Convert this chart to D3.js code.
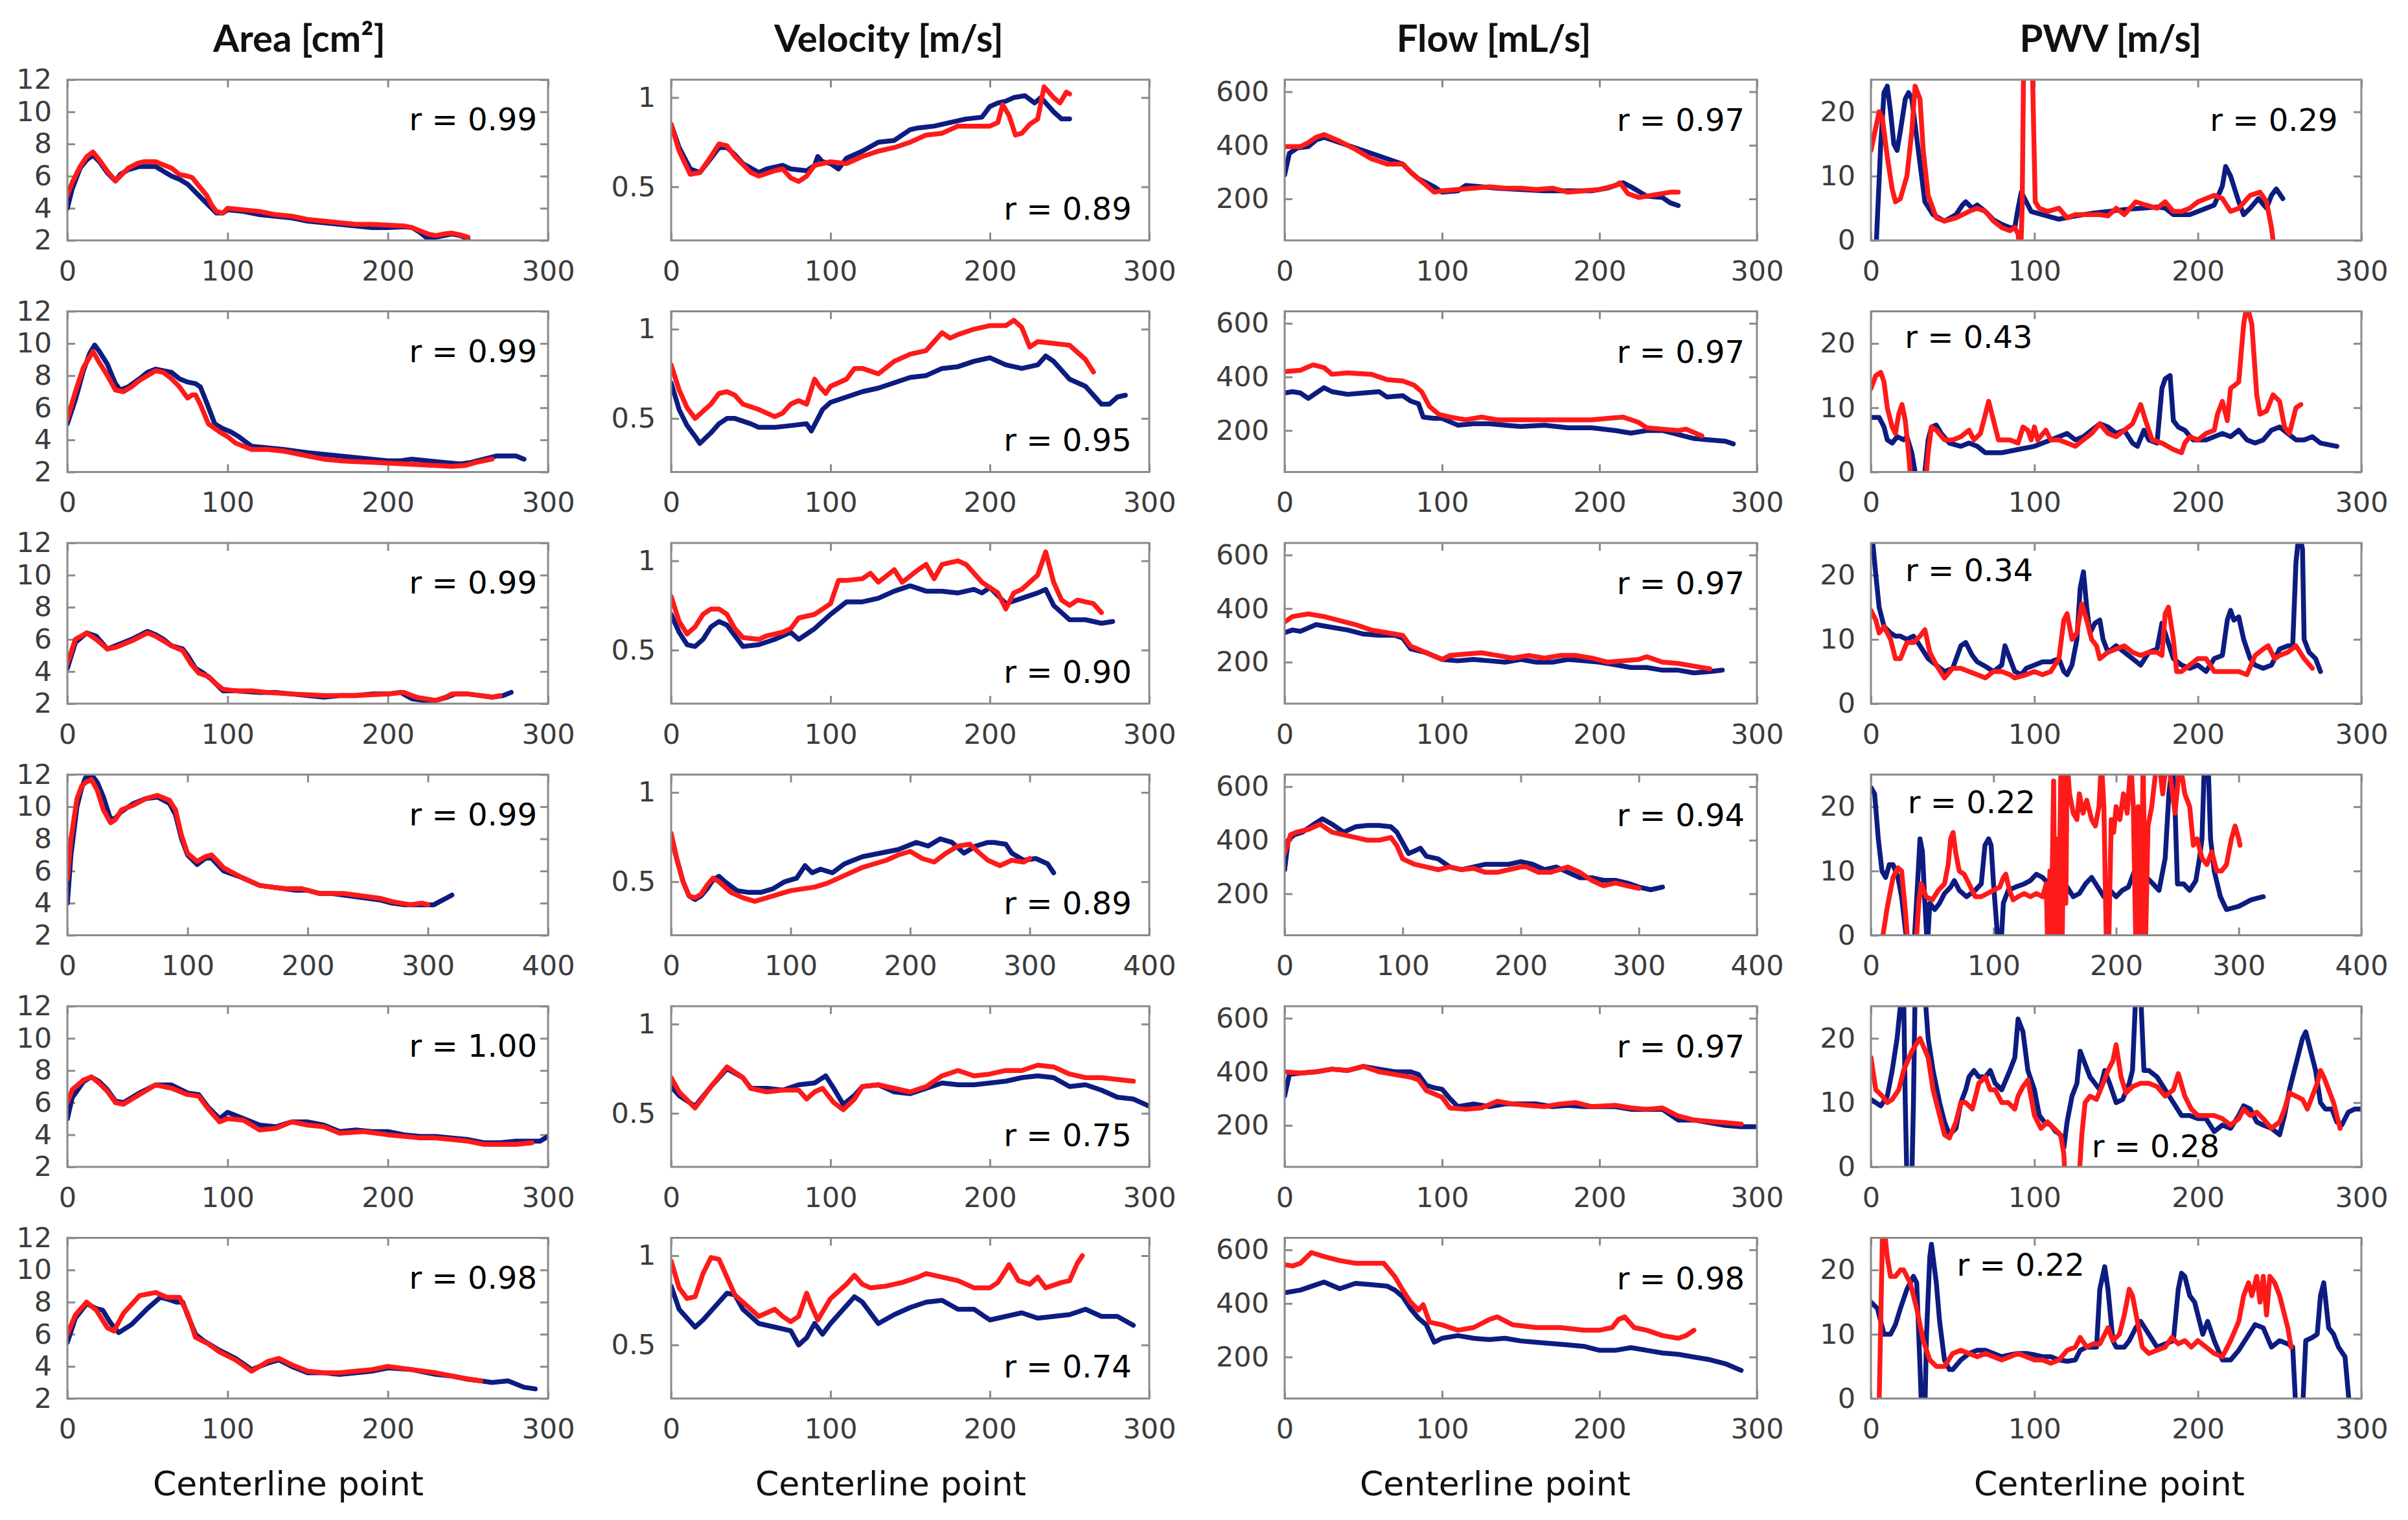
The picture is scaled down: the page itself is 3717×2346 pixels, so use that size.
<!DOCTYPE html>
<html><head><meta charset="utf-8">
<script src="https://cdn.jsdelivr.net/npm/d3@7"></script>
<style>html,body{margin:0;padding:0;background:#fff;} svg{display:block}</style>
</head><body>
<svg id="chart" width="3717" height="2346"></svg>
<script>
// ---------------- DATA ----------------
const columnTitles = ["Area [cm²]", "Velocity [m/s]", "Flow [mL/s]", "PWV [m/s]"];
const xAxisLabel = "Centerline point";
const rowXMax = [300, 300, 300, 400, 300, 300];
const xTickStep = 100;
const yDomains = [[2, 12], [0.2, 1.1], [45, 645], [0, 25]];
const yTickValues = [[2, 4, 6, 8, 10, 12], [0.5, 1], [200, 400, 600], [0, 10, 20]];
const rValues = [
  ["0.99", "0.99", "0.99", "0.99", "1.00", "0.98"],
  ["0.89", "0.95", "0.90", "0.89", "0.75", "0.74"],
  ["0.97", "0.97", "0.97", "0.94", "0.97", "0.98"],
  ["0.29", "0.43", "0.34", "0.22", "0.28", "0.22"]
];

// Area
const area1B = [[0,4.0],[3,5.2],[8,6.5],[12,7.0],[16,7.3],[20,6.9],[25,6.2],[30,5.7],[33,6.1],[38,6.4],[45,6.6],[50,6.6],[55,6.6],[60,6.3],[65,6.0],[70,5.8],[75,5.5],[80,5.0],[85,4.5],[90,4.0],[93,3.7],[97,3.7],[100,3.9],[110,3.8],[120,3.6],[130,3.5],[140,3.4],[150,3.2],[160,3.1],[170,3.0],[180,2.9],[190,2.8],[200,2.8],[210,2.85],[215,2.8],[220,2.5],[225,2.1],[230,2.2],[235,2.3],[240,2.4],[245,2.3],[250,2.1]];
const area1R = [[0,4.8],[3,5.6],[8,6.6],[12,7.2],[16,7.5],[20,7.0],[25,6.3],[30,5.7],[34,6.1],[38,6.5],[44,6.8],[48,6.9],[55,6.9],[60,6.7],[65,6.5],[70,6.1],[75,6.0],[78,5.9],[82,5.4],[87,4.8],[90,4.2],[93,3.8],[97,3.7],[100,4.0],[110,3.9],[120,3.8],[130,3.6],[140,3.5],[150,3.3],[160,3.2],[170,3.1],[180,3.0],[190,3.0],[200,2.95],[210,2.9],[215,2.8],[220,2.6],[225,2.4],[230,2.3],[235,2.4],[240,2.45],[245,2.35],[250,2.2]];
const area2B = [[0,5.0],[5,6.5],[10,8.3],[14,9.4],[17,9.9],[20,9.5],[25,8.7],[30,7.5],[33,7.1],[38,7.3],[45,7.8],[50,8.2],[55,8.4],[60,8.3],[65,8.2],[70,7.8],[75,7.6],[80,7.5],[83,7.3],[87,6.3],[92,5.0],[97,4.7],[102,4.5],[107,4.2],[115,3.6],[125,3.5],[135,3.4],[150,3.2],[160,3.1],[170,3.0],[180,2.9],[190,2.8],[200,2.7],[208,2.7],[215,2.8],[225,2.7],[235,2.6],[245,2.5],[252,2.6],[260,2.8],[268,3.0],[275,3.0],[280,3.0],[285,2.8]];
const area2R = [[0,5.3],[5,7.0],[10,8.5],[16,9.5],[20,8.8],[25,8.0],[30,7.1],[35,7.0],[40,7.3],[45,7.7],[50,8.0],[55,8.3],[60,8.2],[65,7.8],[70,7.3],[75,6.6],[78,6.8],[80,6.8],[83,6.2],[88,5.0],[95,4.5],[100,4.2],[105,3.8],[115,3.4],[125,3.4],[135,3.3],[150,3.0],[160,2.8],[170,2.7],[180,2.65],[190,2.6],[200,2.55],[210,2.5],[220,2.45],[230,2.4],[240,2.35],[248,2.4],[255,2.6],[260,2.7],[265,2.8]];
const area3B = [[0,4.2],[5,5.8],[12,6.4],[18,6.2],[25,5.4],[30,5.6],[40,6.0],[50,6.5],[55,6.3],[60,6.0],[65,5.6],[72,5.4],[75,5.0],[80,4.2],[85,3.9],[90,3.5],[97,2.8],[105,2.8],[120,2.7],[130,2.7],[140,2.6],[150,2.5],[160,2.4],[170,2.5],[180,2.5],[190,2.6],[200,2.6],[208,2.7],[215,2.3],[222,2.2],[230,2.2],[237,2.4],[242,2.6],[250,2.6],[258,2.5],[265,2.4],[272,2.5],[277,2.7]];
const area3R = [[0,4.5],[5,6.0],[12,6.4],[18,6.0],[25,5.4],[30,5.5],[40,5.9],[50,6.4],[55,6.2],[60,5.9],[65,5.6],[72,5.3],[77,4.5],[82,3.9],[88,3.7],[92,3.3],[97,2.9],[105,2.8],[115,2.8],[125,2.7],[140,2.6],[150,2.55],[160,2.5],[170,2.5],[180,2.5],[190,2.55],[200,2.6],[210,2.7],[215,2.5],[220,2.35],[230,2.2],[236,2.4],[240,2.6],[250,2.6],[258,2.5],[265,2.4],[270,2.5]];
const area4B = [[0,4.0],[3,7.0],[8,10.0],[12,11.2],[15,11.8],[20,12.0],[25,11.5],[30,10.6],[36,9.2],[40,9.3],[45,9.7],[55,10.2],[65,10.5],[75,10.6],[85,10.2],[90,9.5],[95,8.0],[100,7.0],[108,6.4],[115,6.8],[120,6.8],[125,6.4],[130,6.0],[145,5.6],[160,5.1],[170,5.0],[180,4.9],[190,4.8],[200,4.8],[210,4.6],[220,4.6],[230,4.5],[240,4.4],[250,4.3],[260,4.2],[270,4.0],[280,3.9],[290,3.9],[300,3.9],[305,3.9],[310,4.1],[315,4.3],[320,4.5]];
const area4R = [[0,5.5],[3,8.0],[8,10.5],[12,11.3],[15,11.5],[20,11.7],[25,11.0],[30,9.8],[36,9.0],[40,9.2],[45,9.8],[55,10.1],[65,10.5],[75,10.7],[85,10.4],[90,9.8],[95,8.2],[100,7.1],[108,6.6],[115,6.9],[120,7.0],[125,6.6],[130,6.2],[145,5.6],[160,5.1],[170,5.0],[180,4.9],[195,4.9],[210,4.6],[220,4.6],[230,4.6],[240,4.5],[250,4.4],[260,4.3],[270,4.1],[285,3.9],[295,4.0],[300,3.9]];
const area5B = [[0,5.0],[3,6.3],[10,7.3],[15,7.6],[20,7.3],[25,6.8],[30,6.1],[35,6.0],[45,6.6],[55,7.1],[65,7.1],[75,6.6],[82,6.5],[88,5.7],[95,5.0],[100,5.4],[110,5.0],[120,4.6],[130,4.5],[140,4.8],[150,4.8],[160,4.6],[170,4.2],[180,4.3],[190,4.2],[200,4.2],[210,4.0],[220,3.9],[230,3.9],[240,3.8],[250,3.7],[260,3.5],[270,3.5],[280,3.6],[290,3.6],[295,3.6],[300,3.9]];
const area5R = [[0,6.0],[3,6.8],[10,7.4],[15,7.6],[20,7.2],[25,6.7],[30,6.0],[35,5.9],[45,6.5],[55,7.1],[65,6.9],[75,6.5],[82,6.4],[88,5.6],[95,4.8],[100,5.0],[110,4.9],[120,4.3],[130,4.4],[140,4.8],[150,4.6],[160,4.5],[170,4.1],[185,4.2],[200,4.0],[210,3.9],[220,3.8],[230,3.8],[240,3.7],[250,3.6],[260,3.4],[270,3.4],[280,3.4],[290,3.5]];
const area6B = [[0,5.5],[5,7.0],[12,7.9],[18,7.6],[22,7.5],[27,6.7],[32,6.1],[40,6.6],[50,7.6],[58,8.3],[62,8.2],[68,8.0],[72,8.0],[75,7.2],[80,6.0],[85,5.6],[95,5.0],[105,4.5],[115,3.8],[125,4.2],[132,4.4],[140,4.0],[150,3.6],[160,3.6],[170,3.5],[180,3.6],[190,3.7],[200,3.9],[215,3.8],[230,3.5],[240,3.4],[250,3.2],[258,3.1],[265,3.0],[275,3.1],[285,2.7],[292,2.6]];
const area6R = [[0,6.0],[5,7.2],[12,8.0],[18,7.5],[25,6.4],[29,6.2],[35,7.3],[45,8.4],[55,8.6],[62,8.3],[70,8.3],[75,7.3],[80,5.8],[88,5.4],[95,4.9],[105,4.4],[115,3.7],[125,4.3],[132,4.5],[140,4.1],[150,3.7],[160,3.6],[170,3.6],[180,3.7],[190,3.8],[200,4.0],[215,3.8],[230,3.6],[245,3.3],[258,3.1]];

// Velocity
const vel1B = [[0,0.85],[5,0.72],[12,0.60],[18,0.58],[25,0.66],[30,0.72],[35,0.72],[40,0.68],[45,0.63],[55,0.58],[60,0.60],[65,0.61],[70,0.62],[75,0.60],[85,0.59],[90,0.62],[92,0.67],[95,0.64],[100,0.63],[105,0.60],[110,0.66],[120,0.70],[130,0.75],[140,0.76],[145,0.79],[150,0.82],[155,0.83],[165,0.84],[175,0.86],[185,0.88],[195,0.89],[200,0.95],[205,0.97],[210,0.98],[215,1.0],[222,1.01],[228,0.97],[232,1.0],[236,0.96],[240,0.92],[245,0.88],[250,0.88]];
const vel1R = [[0,0.85],[5,0.70],[12,0.57],[18,0.58],[25,0.67],[30,0.74],[35,0.73],[40,0.67],[50,0.58],[55,0.56],[65,0.59],[70,0.60],[75,0.55],[80,0.53],[85,0.56],[90,0.62],[100,0.64],[110,0.63],[120,0.67],[130,0.70],[140,0.72],[150,0.75],[160,0.79],[170,0.80],[180,0.84],[190,0.84],[200,0.84],[205,0.86],[208,0.96],[212,0.90],[216,0.79],[220,0.80],[225,0.85],[230,0.88],[234,1.06],[240,1.0],[244,0.97],[248,1.03],[250,1.02]];
const vel2B = [[0,0.70],[5,0.55],[10,0.46],[15,0.40],[18,0.36],[25,0.42],[30,0.47],[35,0.50],[40,0.50],[50,0.47],[55,0.45],[65,0.45],[75,0.46],[85,0.47],[88,0.43],[95,0.55],[100,0.59],[110,0.62],[120,0.65],[130,0.67],[140,0.70],[150,0.73],[160,0.74],[170,0.78],[180,0.79],[190,0.82],[200,0.84],[210,0.80],[220,0.78],[230,0.80],[235,0.85],[240,0.82],[250,0.72],[260,0.68],[270,0.58],[275,0.58],[280,0.62],[285,0.63]];
const vel2R = [[0,0.80],[5,0.66],[10,0.56],[15,0.50],[20,0.54],[25,0.58],[30,0.64],[35,0.65],[40,0.63],[45,0.58],[55,0.55],[65,0.51],[70,0.53],[75,0.58],[80,0.60],[85,0.58],[90,0.72],[93,0.68],[97,0.64],[100,0.68],[110,0.72],[115,0.78],[120,0.78],[130,0.75],[140,0.82],[150,0.86],[160,0.88],[165,0.93],[170,0.98],[175,0.95],[180,0.97],[190,1.0],[200,1.02],[210,1.02],[215,1.05],[220,1.01],[225,0.90],[230,0.93],[240,0.92],[250,0.91],[260,0.83],[265,0.76]];
const vel3B = [[0,0.70],[5,0.60],[10,0.53],[15,0.52],[20,0.56],[25,0.63],[30,0.66],[35,0.64],[40,0.58],[45,0.52],[55,0.53],[65,0.56],[75,0.60],[80,0.56],[90,0.62],[100,0.70],[110,0.77],[120,0.77],[130,0.79],[140,0.83],[150,0.86],[160,0.83],[170,0.83],[180,0.82],[190,0.84],[195,0.82],[200,0.85],[210,0.76],[220,0.79],[230,0.82],[235,0.84],[240,0.75],[250,0.67],[260,0.67],[270,0.65],[277,0.66]];
const vel3R = [[0,0.80],[5,0.66],[10,0.59],[15,0.63],[20,0.70],[25,0.73],[30,0.73],[35,0.70],[40,0.62],[45,0.57],[55,0.56],[60,0.58],[70,0.60],[75,0.62],[80,0.68],[90,0.70],[100,0.76],[105,0.89],[110,0.89],[120,0.90],[125,0.93],[130,0.88],[140,0.95],[145,0.88],[155,0.95],[160,0.98],[165,0.90],[170,0.98],[180,1.0],[185,0.98],[195,0.88],[200,0.85],[205,0.82],[210,0.73],[215,0.82],[220,0.84],[230,0.92],[235,1.05],[240,0.88],[245,0.78],[250,0.75],[255,0.78],[265,0.76],[270,0.71]];
const vel4B = [[0,0.75],[5,0.62],[10,0.50],[15,0.42],[20,0.40],[25,0.42],[30,0.46],[35,0.51],[40,0.53],[45,0.50],[55,0.45],[65,0.44],[75,0.44],[85,0.46],[95,0.50],[105,0.52],[112,0.59],[118,0.55],[125,0.57],[135,0.55],[145,0.60],[160,0.64],[175,0.66],[190,0.68],[205,0.72],[215,0.70],[225,0.74],[235,0.72],[245,0.66],[255,0.70],[265,0.72],[270,0.72],[280,0.71],[285,0.66],[295,0.62],[305,0.63],[315,0.60],[320,0.55]];
const vel4R = [[0,0.77],[5,0.62],[10,0.50],[15,0.42],[20,0.41],[25,0.43],[30,0.48],[35,0.52],[40,0.50],[50,0.44],[60,0.41],[70,0.39],[80,0.41],[90,0.43],[100,0.45],[110,0.46],[120,0.47],[130,0.49],[140,0.52],[150,0.55],[160,0.58],[170,0.60],[180,0.62],[190,0.65],[200,0.67],[210,0.63],[220,0.61],[230,0.66],[240,0.70],[250,0.71],[258,0.66],[265,0.62],[275,0.59],[285,0.62],[295,0.61],[300,0.63]];
const vel5B = [[0,0.65],[5,0.60],[15,0.54],[25,0.65],[35,0.75],[45,0.70],[50,0.64],[60,0.64],[70,0.63],[80,0.66],[90,0.67],[97,0.71],[102,0.64],[108,0.55],[115,0.60],[120,0.65],[130,0.66],[140,0.62],[150,0.61],[160,0.64],[170,0.67],[180,0.66],[190,0.66],[200,0.67],[210,0.68],[220,0.70],[230,0.71],[240,0.70],[250,0.65],[260,0.66],[270,0.63],[280,0.59],[290,0.58],[300,0.54]];
const vel5R = [[0,0.70],[5,0.62],[15,0.53],[25,0.65],[35,0.76],[45,0.70],[50,0.64],[60,0.62],[70,0.63],[80,0.63],[85,0.58],[90,0.62],[95,0.64],[102,0.56],[108,0.52],[115,0.58],[120,0.65],[130,0.66],[140,0.64],[150,0.62],[160,0.65],[165,0.68],[170,0.71],[180,0.74],[190,0.71],[200,0.72],[210,0.74],[220,0.74],[230,0.77],[240,0.76],[250,0.72],[260,0.70],[270,0.70],[280,0.69],[290,0.68]];
const vel6B = [[0,0.83],[5,0.70],[10,0.65],[15,0.60],[20,0.64],[28,0.72],[35,0.79],[40,0.78],[45,0.70],[55,0.62],[65,0.60],[75,0.58],[80,0.50],[85,0.54],[90,0.62],[95,0.56],[100,0.62],[110,0.72],[115,0.77],[120,0.74],[125,0.68],[130,0.62],[140,0.67],[150,0.71],[160,0.74],[170,0.75],[180,0.70],[190,0.70],[200,0.64],[210,0.66],[220,0.68],[230,0.65],[240,0.66],[250,0.67],[260,0.70],[270,0.66],[280,0.66],[290,0.61]];
const vel6R = [[0,0.97],[5,0.82],[10,0.76],[15,0.77],[20,0.90],[25,0.99],[30,0.98],[35,0.88],[40,0.78],[50,0.70],[55,0.66],[60,0.68],[65,0.70],[70,0.66],[75,0.63],[80,0.66],[85,0.79],[88,0.72],[92,0.64],[100,0.76],[110,0.84],[115,0.89],[120,0.84],[125,0.82],[135,0.83],[145,0.85],[155,0.88],[160,0.90],[170,0.88],[180,0.86],[190,0.82],[200,0.82],[205,0.85],[210,0.92],[212,0.95],[218,0.86],[225,0.84],[230,0.88],[235,0.82],[245,0.85],[250,0.86],[255,0.96],[258,1.0]];

// Flow
const flow1B = [[0,290],[3,370],[8,390],[15,395],[20,420],[25,430],[30,420],[40,400],[50,380],[60,360],[65,350],[75,330],[80,300],[85,275],[95,245],[100,225],[110,230],[115,250],[125,245],[135,240],[150,235],[165,230],[180,230],[195,230],[205,240],[210,250],[215,260],[220,245],[230,210],[240,205],[245,185],[250,175]];
const flow1R = [[0,395],[5,395],[10,395],[15,410],[20,430],[25,440],[35,415],[45,385],[55,350],[65,330],[75,330],[80,300],[85,275],[95,225],[100,230],[110,235],[120,240],[130,245],[140,240],[150,240],[160,235],[170,240],[180,225],[190,230],[200,235],[210,250],[213,260],[218,220],[225,205],[235,215],[245,225],[250,225]];
const flow2B = [[0,340],[5,345],[10,340],[15,320],[20,340],[25,360],[30,345],[40,335],[50,340],[60,345],[65,325],[75,330],[80,310],[85,300],[88,250],[95,245],[100,245],[110,220],[120,225],[130,225],[140,220],[150,215],[165,220],[180,210],[195,210],[210,200],[220,190],[230,200],[240,200],[250,185],[260,170],[270,165],[280,160],[285,150]];
const flow2R = [[0,420],[10,425],[18,445],[25,435],[30,410],[40,415],[55,410],[65,390],[75,385],[82,370],[87,345],[92,290],[98,260],[105,250],[115,240],[125,250],[135,240],[150,240],[165,240],[180,240],[195,240],[205,245],[215,250],[225,230],[230,210],[240,205],[250,200],[255,205],[265,180]];
const flow3B = [[0,310],[5,320],[10,315],[20,340],[30,330],[40,320],[50,305],[60,300],[70,300],[75,290],[80,250],[90,235],[100,210],[110,205],[120,210],[130,205],[140,200],[150,210],[160,200],[170,200],[180,210],[190,205],[200,200],[210,190],[220,180],[230,180],[240,170],[250,170],[260,160],[270,165],[278,170]];
const flow3R = [[0,350],[5,370],[15,380],[25,370],[35,355],[45,340],[55,320],[65,310],[75,300],[80,260],[90,235],[100,210],[105,225],[115,230],[125,235],[135,225],[145,215],[155,225],[165,215],[175,225],[185,225],[195,215],[205,200],[215,205],[225,210],[230,220],[240,200],[250,195],[260,185],[270,175]];
const flow4B = [[0,290],[3,400],[8,420],[15,430],[25,460],[32,480],[40,460],[50,430],[60,450],[70,455],[80,455],[90,450],[95,430],[100,390],[105,350],[110,360],[115,370],[120,340],[130,330],[140,300],[150,290],[160,300],[170,310],[180,310],[190,310],[200,320],[210,310],[220,290],[230,300],[240,280],[250,260],[260,260],[270,250],[280,250],[290,240],[300,225],[310,215],[320,225]];
const flow4R = [[0,350],[5,420],[10,430],[20,440],[30,460],[40,430],[50,420],[60,410],[70,400],[80,400],[90,410],[95,380],[100,330],[110,310],[120,300],[130,290],[140,300],[150,290],[160,295],[170,280],[180,280],[190,290],[200,300],[205,300],[215,280],[225,280],[240,300],[250,280],[260,250],[270,230],[280,240],[290,230],[300,220]];
const flow5B = [[0,310],[3,390],[10,395],[20,400],[30,410],[40,405],[50,420],[60,410],[70,400],[80,400],[85,390],[90,350],[95,340],[100,335],[105,300],[110,270],[120,280],[130,270],[140,280],[150,280],[160,280],[170,270],[180,275],[190,270],[200,270],[210,270],[220,260],[230,260],[240,260],[245,240],[250,220],[260,220],[270,210],[280,200],[290,195],[300,195]];
const flow5R = [[0,400],[10,395],[20,400],[30,410],[40,405],[50,420],[60,400],[70,390],[80,380],[85,370],[90,330],[100,305],[105,265],[115,260],[125,265],[135,290],[145,280],[155,275],[165,270],[175,280],[185,285],[195,270],[210,275],[220,265],[230,260],[240,265],[250,235],[260,220],[270,215],[280,210],[290,205]];
const flow6B = [[0,440],[10,450],[20,470],[25,480],[35,455],[45,475],[55,470],[65,465],[70,450],[75,425],[80,380],[85,345],[90,320],[95,255],[100,270],[110,280],[120,270],[130,265],[140,270],[150,260],[160,255],[170,250],[180,245],[190,240],[200,225],[210,225],[220,235],[230,225],[240,215],[250,210],[260,200],[270,190],[280,175],[290,150]];
const flow6R = [[0,545],[5,540],[10,550],[17,590],[25,575],[35,560],[45,550],[55,550],[63,550],[70,500],[75,450],[80,405],[85,375],[88,395],[92,330],[100,320],[110,300],[120,310],[130,340],[135,350],[145,320],[160,310],[175,310],[190,300],[200,300],[208,310],[212,340],[216,350],[222,310],[230,300],[240,280],[250,270],[255,280],[260,300]];

// PWV
const pwv1B = [[3,-2],[6,15],[8,23],[10,24],[12,20],[14,15],[16,14],[18,17],[21,22],[23,23],[25,22],[27,18],[30,12],[33,6],[38,4],[45,3],[52,4],[56,5.5],[58,6],[62,5],[65,5.5],[70,4.5],[75,3.2],[80,2.5],[85,2],[88,2],[90,5],[92,7.5],[95,6],[98,4.5],[105,4],[115,3.3],[125,3.8],[135,4.2],[145,4.5],[155,4.8],[165,5],[175,5.2],[180,5],[185,4],[195,4],[205,5],[210,5.5],[215,8.5],[217,11.5],[220,10],[225,6],[228,4],[232,5],[237,6.5],[242,5],[245,7],[248,8],[252,6.5]];
const pwv1R = [[0,14],[5,20],[7,19],[10,13],[13,8],[15,6],[18,6.5],[22,10],[25,17],[27,24],[30,22],[32,14],[35,7],[40,3.5],[45,3],[52,3.5],[60,4.5],[65,5],[70,4.5],[75,3],[80,2],[85,1.5],[88,2],[90,1],[91.5,-3],[92.5,5],[93.5,30],[98.5,30],[100.5,6],[103,5],[108,4.5],[115,5],[120,3.5],[125,4],[130,4],[140,4],[145,3.8],[150,5],[155,4],[162,6],[168,5.5],[175,5],[180,6],[185,4.5],[190,4.5],[195,5],[200,6],[205,6.5],[210,7],[215,6.5],[220,4.5],[225,5],[232,7],[238,7.5],[242,6],[245,2],[247,-2]];
const pwv2B = [[0,8.5],[5,8.5],[8,7],[10,5],[13,4.5],[16,5.5],[20,5],[22,5.5],[25,3],[27,0],[28,-2],[32,-2],[33,0],[35,5],[37,7],[40,7.3],[43,6],[48,4.5],[55,4],[60,4.5],[65,4],[70,3],[80,3],[90,3.5],[100,4],[110,5],[115,5.5],[120,6],[125,5],[130,5.5],[135,6.5],[140,7.5],[145,7],[150,6],[155,6.5],[160,4.5],[163,4],[167,6.5],[170,5],[175,4.5],[178,13],[180,14.5],[183,15],[185,8],[188,7],[192,6.5],[197,5],[205,5],[210,5.5],[215,6],[220,5.5],[225,6.5],[230,5],[235,4.5],[240,5],[245,6.5],[250,7],[255,6],[260,5],[265,5],[270,5.5],[275,4.5],[285,4]];
const pwv2R = [[0,13],[3,15],[6,15.5],[8,14],[10,10],[13,7],[15,6],[17,9],[19,10.5],[21,8],[23,3],[25,-3],[33,-3],[35,3],[37,7],[40,6.5],[45,5],[50,5],[55,5.5],[60,6.5],[63,5],[67,6],[70,9],[72,11],[75,8],[78,5],[85,5],[90,4.5],[93,7],[96,6.5],[98,5],[100,7],[102,5],[107,6.5],[110,5],[115,5],[120,4.5],[125,4],[130,5],[135,6],[140,7.5],[145,6],[150,5.5],[155,6.5],[160,7.5],[165,10.5],[168,8],[172,5],[178,4.5],[185,3.5],[190,3],[192,4.5],[195,5.5],[200,5],[205,6],[210,6.5],[212,9],[215,11],[218,8],[220,13],[225,14],[228,23],[230,26],[233,23],[236,12],[238,9],[242,9.5],[246,12],[250,11],[253,7],[256,6],[260,10],[263,10.5]];
const pwv3B = [[0,28],[3,20],[5,15],[8,12],[12,11],[15,10.5],[18,10.5],[22,10],[26,10.5],[30,9],[35,7],[40,6],[45,5],[50,5.5],[55,9],[58,9.5],[62,7.5],[65,6.5],[70,5.8],[75,5],[80,6],[82,9],[85,7],[88,5],[92,4.5],[95,5.5],[100,6],[105,6.5],[110,6.5],[115,7],[118,5],[120,4.5],[123,6],[126,10],[128,18],[130,20.5],[132,15],[134,11],[137,12.5],[140,13],[142,10],[145,8],[150,9],[155,8],[160,7],[165,6],[170,8],[175,8.5],[178,12.5],[180,11],[185,7],[190,6],[195,5.5],[200,6],[205,5],[210,7],[215,7.5],[218,13],[220,14.5],[222,13],[225,13.5],[228,10],[232,7],[235,6],[240,5.5],[245,6],[250,8.5],[255,9],[258,9],[260,22],[262,27],[264,24],[265,10],[268,8],[272,7],[275,5]];
const pwv3R = [[0,14.5],[3,13],[5,11],[8,12],[12,10],[15,7],[18,7],[22,9.5],[26,9.5],[30,10.5],[33,11.5],[36,8],[40,6],[45,4],[50,5.5],[55,5.5],[60,5],[65,4.5],[70,4],[75,5],[80,5],[85,4.5],[88,4],[95,4.5],[100,5],[105,4.5],[110,5],[115,7],[118,13],[120,14],[123,10],[126,11],[129,15.5],[132,13],[135,10],[138,9],[140,7],[145,8],[150,8.5],[155,9],[160,8],[165,7.5],[170,8],[175,8],[178,7.5],[180,14],[182,15],[185,10],[187,5],[190,5],[195,6],[200,7],[205,7],[210,5],[215,5],[220,5],[225,5],[230,4.5],[235,7.5],[240,8.5],[243,9],[247,7],[250,7.5],[255,8],[260,9],[265,7],[270,5.5]];
const pwv4B = [[0,23],[3,22],[6,15],[9,10],[12,9],[15,11],[18,11],[22,9],[25,6],[28,1],[30,-2],[35,-2],[38,8],[40,15],[42,13],[44,5],[46,-2],[48,5],[52,4],[56,5],[60,6.5],[65,7.5],[68,8.5],[72,7],[78,6],[85,7],[90,8],[93,14],[96,15],[98,14],[100,8],[102,3],[104,-2],[106,-2],[108,5],[112,7],[118,7.5],[125,8],[130,8.5],[135,9.5],[140,9],[145,8],[150,7],[155,8],[160,7.5],[165,6],[170,6.5],[175,8],[180,9],[185,7.5],[190,6],[195,7],[200,6],[205,7],[210,7.5],[215,10],[218,13],[220,12],[222,6],[225,9],[230,8],[235,7],[240,12],[243,22],[246,27],[248,20],[250,8],[255,8],[260,7],[265,8.5],[268,12],[270,15],[272,27],[275,27],[277,15],[280,10],[285,6],[290,4],[300,4.5],[310,5.5],[320,6]];
const pwv4R = [[9,-1],[13,4],[18,9],[22,10.5],[25,10],[28,4],[30,-1],[37,-1],[39,5],[41,8],[45,6],[50,5.5],[55,7],[60,8],[63,11],[65,15],[67,16],[69,13],[72,10],[76,9.5],[80,8],[85,6],[90,6],[95,6.5],[100,7],[105,7.5],[108,9],[110,9.5],[113,7],[116,5.5],[120,6],[125,6.5],[130,6],[135,6.5],[140,6],[143,8],[144,-1],[146,10],[147,-1],[149,24],[150,-1],[152,15],[153,-1],[155,27],[156,-1],[158,27],[159,5],[160,27],[162,22],[165,19],[168,18],[170,22],[173,19],[176,21],[180,18],[183,17],[186,20],[188,27],[190,20],[192,-1],[194,-1],[196,18],[198,16],[200,20],[203,18],[206,22],[209,19],[212,27],[214,20],[216,-1],[218,20],[220,-1],[222,27],[224,-1],[226,17],[229,20],[232,25],[235,27],[238,22],[241,27],[244,25],[248,19],[252,27],[256,22],[260,20],[263,14],[266,15],[270,12],[274,11],[278,13],[282,10],[286,10],[290,11],[294,15],[297,17],[300,15],[301,14]];
const pwv5B = [[0,10.5],[3,10],[6,9.5],[10,11],[13,15],[16,20],[18,25],[20,27],[21,10],[22,-2],[25,-2],[26,10],[27,27],[33,27],[35,20],[38,15],[42,10],[45,7],[48,5],[52,6],[55,10],[58,12],[60,14],[63,15],[66,14],[70,14],[73,15],[76,13],[80,12],[85,15],[88,17],[90,23],[93,21],[96,15],[100,12],[103,8],[106,7],[110,6.5],[113,5.5],[116,5],[118,3],[120,7],[123,11],[126,13],[128,18],[131,16],[134,14],[137,13],[140,12],[143,15],[146,13],[150,10],[154,10.5],[158,13],[160,15],[162,27],[165,27],[167,15],[170,15],[175,14],[180,12],[185,10],[190,8],[195,8],[200,7.5],[205,7.5],[210,5.5],[215,6.5],[220,6],[225,8],[228,9.5],[232,9],[236,7],[240,6.5],[245,6],[250,5],[253,8],[256,12],[260,16],[264,20],[266,21],[268,19],[272,15],[275,10],[278,9],[282,9],[285,7],[288,6.5],[292,8.5],[296,9],[300,9]];
const pwv5R = [[0,17],[3,12],[7,11],[10,10],[13,10.5],[17,12],[20,15],[25,18],[30,20],[35,17],[38,12],[42,8],[45,5],[48,4.5],[52,7],[55,10],[58,10],[62,9],[66,13],[70,14],[73,12],[76,12],[80,10],[84,10],[88,9],[90,11],[93,12.5],[96,13.5],[100,8],[104,6],[108,7],[112,6],[116,5],[118,2],[119,-3],[127,-3],[129,5],[131,10],[134,11],[138,10.5],[142,13],[145,15],[148,16.5],[150,19],[153,14],[156,11.5],[160,12.5],[165,13],[170,13],[175,12.5],[180,11],[185,12],[188,14.5],[192,11],[196,9],[200,8],[205,8],[210,8],[215,7.5],[220,6.5],[225,7.5],[228,9],[232,8],[236,8.5],[240,7.5],[245,6],[250,7],[253,9],[256,11.5],[260,11],[264,10.5],[267,9],[270,11],[273,13],[275,15],[277,14],[280,12],[283,10],[287,6]];
const pwv6B = [[0,15],[4,14],[6,12],[8,10],[12,10],[15,11.5],[18,14],[22,17],[26,19],[28,18],[30,5],[31,-2],[33,-2],[34,10],[36,22],[37,24],[40,18],[42,12],[45,6],[48,4.5],[50,4.5],[55,6],[60,7],[65,7.5],[70,7.5],[75,7],[80,6.5],[85,6.8],[90,7],[95,7],[100,6.8],[105,6.5],[110,6.5],[115,6],[120,5.8],[125,6],[128,7.5],[132,8],[138,8],[140,17],[143,20.5],[145,17],[148,9],[150,8],[155,8],[158,9],[162,11],[165,12],[170,10],[175,8],[180,8.5],[185,9],[188,17],[190,19.5],[192,19],[195,16],[198,15],[200,13],[203,10],[206,12],[210,9],[215,6],[220,6],[225,7.5],[230,9.5],[235,11.5],[240,11],[245,8],[250,9],[255,8.5],[258,8],[260,-2],[264,-2],[266,9],[270,9.5],[273,10],[275,16],[277,18],[280,11],[283,10],[286,8],[290,6.5],[293,-2]];
const pwv6R = [[5,-1],[7,25],[8,27],[10,22],[12,19],[15,19],[18,20],[20,20],[24,18],[28,14],[32,9],[36,6],[40,5],[45,5],[50,7],[55,7.5],[60,7],[65,6.5],[70,7],[75,6.5],[80,6],[85,6.5],[90,7],[95,6.5],[100,6],[105,6],[110,5.5],[115,6],[120,7.5],[125,8],[128,9.5],[132,8],[136,8.5],[140,8.5],[145,11],[148,9],[152,10],[155,13],[158,17],[160,16],[163,12],[166,8],[170,7],[175,7.5],[180,8],[184,9.5],[188,8.5],[192,9],[196,8],[200,9],[205,8],[210,7],[215,6.5],[220,9],[225,12],[228,16],[231,18],[233,16],[236,19],[238,15],[240,19],[242,13],[244,19],[247,18],[250,16],[253,13],[255,11],[257,8]];

const seriesTable = [
  [[area1B, area1R], [area2B, area2R], [area3B, area3R], [area4B, area4R], [area5B, area5R], [area6B, area6R]],
  [[vel1B, vel1R], [vel2B, vel2R], [vel3B, vel3R], [vel4B, vel4R], [vel5B, vel5R], [vel6B, vel6R]],
  [[flow1B, flow1R], [flow2B, flow2R], [flow3B, flow3R], [flow4B, flow4R], [flow5B, flow5R], [flow6B, flow6R]],
  [[pwv1B, pwv1R], [pwv2B, pwv2R], [pwv3B, pwv3R], [pwv4B, pwv4R], [pwv5B, pwv5R], [pwv6B, pwv6R]]
];

// ---------------- LAYOUT ----------------
const colBox = [[104, 846], [1036, 1774], [1983, 2712], [2888, 3645]];
const titleX = [462, 1372, 2306, 3258];
const xLabelX = [445, 1375, 2308, 3256];
const rowTop0 = 123, rowStep = 357.5, boxH = 248;
// r-label placement: [fx, fy, anchor] as fraction of the box
const rPlace = [
  Array(6).fill([0.977, 0.245, "end"]),
  Array(6).fill([0.963, 0.80, "end"]),
  Array(6).fill([0.974, 0.25, "end"]),
  [[0.952, 0.25, "end"], [0.069, 0.16, "start"], [0.07, 0.17, "start"], [0.075, 0.17, "start"], [0.45, 0.87, "start"], [0.175, 0.165, "start"]]
];
const blue = "#0c1c80", red = "#ff1a1a";
const boxColor = "#8a8a8a";
const tickFont = "DejaVu Sans";

const svg = d3.select("#chart");
svg.append("rect").attr("width", 3717).attr("height", 2346).attr("fill", "#fff");

const line = (x, y) => d3.line().x(d => x(d[0])).y(d => y(d[1]));

columnTitles.forEach((t, c) => {
  svg.append("text").attr("x", titleX[c]).attr("y", 80)
    .attr("text-anchor", "middle").attr("font-family", "Lato, 'Open Sans', sans-serif")
    .attr("font-weight", 700).attr("font-size", 58).attr("fill", "#111").text(t);
  svg.append("text").attr("x", xLabelX[c]).attr("y", 2308)
    .attr("text-anchor", "middle").attr("font-family", tickFont)
    .attr("font-size", 52).attr("fill", "#111").text(xAxisLabel);

  for (let r = 0; r < 6; r++) {
    const [x0, x1] = colBox[c];
    const top = rowTop0 + r * rowStep, bottom = top + boxH;
    const xMax = rowXMax[r];
    const x = d3.scaleLinear().domain([0, xMax]).range([x0, x1]);
    const y = d3.scaleLinear().domain(yDomains[c]).range([bottom, top]);
    const xt = d3.range(0, xMax + 1, xTickStep);
    const g = svg.append("g");
    const clipId = `clip-${c}-${r}`;
    g.append("clipPath").attr("id", clipId).append("rect")
      .attr("x", x0).attr("y", top).attr("width", x1 - x0).attr("height", boxH);

    const styleAxis = sel => {
      sel.select(".domain").remove();
      sel.selectAll(".tick line").attr("stroke", boxColor).attr("stroke-width", 3);
      sel.selectAll("text").attr("font-family", tickFont).attr("font-size", 43).attr("fill", "#3c3c3c");
    };
    g.append("g").attr("transform", `translate(0,${bottom})`)
      .call(d3.axisBottom(x).tickValues(xt).tickSize(-12).tickPadding(31).tickFormat(d3.format("d")))
      .call(styleAxis);
    g.append("g").attr("transform", `translate(0,${top})`)
      .call(d3.axisTop(x).tickValues(xt).tickSize(-12).tickFormat(""))
      .call(styleAxis);
    g.append("g").attr("transform", `translate(${x0},0)`)
      .call(d3.axisLeft(y).tickValues(yTickValues[c]).tickSize(-12).tickPadding(24).tickFormat(d => String(d)))
      .call(styleAxis);
    g.append("g").attr("transform", `translate(${x1},0)`)
      .call(d3.axisRight(y).tickValues(yTickValues[c]).tickSize(-12).tickFormat(""))
      .call(styleAxis);

    const [sb, sr] = seriesTable[c][r];
    const lg = g.append("g").attr("clip-path", `url(#${clipId})`);
    lg.append("path").datum(sb).attr("d", line(x, y)).attr("fill", "none")
      .attr("stroke", blue).attr("stroke-width", 7.5).attr("stroke-linejoin", "round").attr("stroke-linecap", "round");
    lg.append("path").datum(sr).attr("d", line(x, y)).attr("fill", "none")
      .attr("stroke", red).attr("stroke-width", 7.5).attr("stroke-linejoin", "round").attr("stroke-linecap", "round");

    g.append("rect").attr("x", x0).attr("y", top).attr("width", x1 - x0).attr("height", boxH)
      .attr("fill", "none").attr("stroke", boxColor).attr("stroke-width", 3);

    const [fx, fy, anc] = rPlace[c][r];
    g.append("text").attr("x", x0 + fx * (x1 - x0)).attr("y", top + fy * boxH)
      .attr("dy", "0.36em").attr("text-anchor", anc)
      .attr("font-family", tickFont).attr("font-size", 48).attr("fill", "#000")
      .text("r = " + rValues[c][r]);
  }
});
</script>
</body></html>
